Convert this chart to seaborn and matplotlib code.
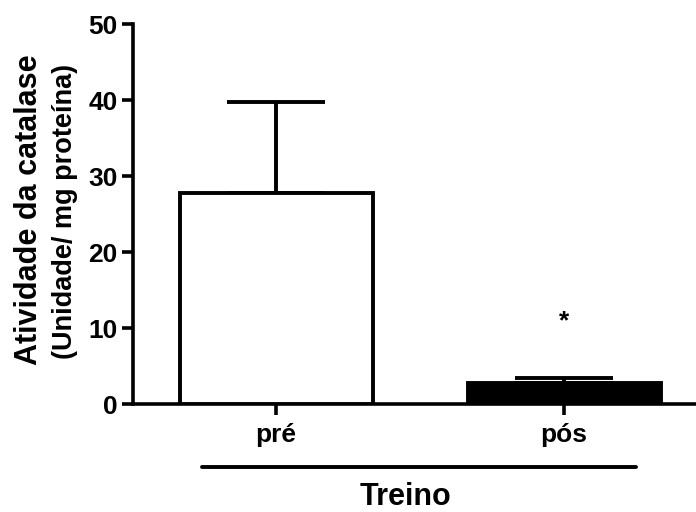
import matplotlib
matplotlib.use("Agg")
import matplotlib.pyplot as plt
import seaborn as sns
import pandas as pd
from matplotlib.lines import Line2D

# data
groups = ["pré", "pós"]
means = [27.8, 2.7]
sds = [11.9, 0.7]
bar_colors = ["white", "black"]
y_ticks = [0, 10, 20, 30, 40, 50]

sns.set_style("ticks", {"axes.edgecolor": "black", "text.color": "black",
                        "xtick.color": "black", "ytick.color": "black"})
plt.rcParams["font.family"] = ["Liberation Sans", "DejaVu Sans"]
plt.rcParams["font.weight"] = "bold"

df = pd.DataFrame({"Treino": groups, "atividade": means})

fig = plt.figure(figsize=(6.96, 5.12), dpi=100)
ax = fig.add_axes([133 / 696, 1 - 404 / 512, (696 - 133) / 696, 380 / 512])

lw = 2.8
sns.barplot(data=df, x="Treino", y="atividade", hue="Treino", palette=bar_colors,
            edgecolor="black", linewidth=lw, width=0.67, legend=False,
            errorbar=None, ax=ax, zorder=3)

# upward-only error bars (Prism style)
ax.errorbar(x=range(len(groups)), y=means, yerr=[[0] * len(sds), sds], fmt="none",
            ecolor="black", elinewidth=lw, capsize=35, capthick=lw, zorder=2)

# significance mark
ax.text(1, 9.9, "*", ha="center", va="baseline", fontsize=19, fontweight="bold",
        color="black")

ax.set_xlim(-0.497, 1.458)
ax.set_ylim(0, 50)
ax.set_yticks(y_ticks)
ax.set_xlabel("")
ax.set_ylabel("")
sns.despine(ax=ax)
for s in ["left", "bottom"]:
    ax.spines[s].set_linewidth(2.6)
    ax.spines[s].set_color("black")
ax.tick_params(axis="both", length=8, width=2.6, labelsize=19, pad=3,
               color="black", labelcolor="black")
ax.tick_params(axis="x", pad=6)
for lab in ax.get_xticklabels() + ax.get_yticklabels():
    lab.set_fontweight("bold")

# axis titles
fig.text(37 / 696, 1 - 210 / 512, "Atividade da catalase", rotation=90,
         rotation_mode="anchor", ha="center", va="baseline", fontsize=22,
         fontweight="bold", color="black")
fig.text(72 / 696, 1 - 211 / 512, "(Unidade/ mg proteína)", rotation=90,
         rotation_mode="anchor", ha="center", va="baseline", fontsize=19.5,
         fontweight="bold", color="black")

# group bar and label below x axis
fig.add_artist(Line2D([202 / 696, 636 / 696], [1 - 467 / 512, 1 - 467 / 512],
                      color="black", linewidth=2.8))
fig.text(405 / 696, 1 - 505 / 512, "Treino", ha="center", va="baseline",
         fontsize=22, fontweight="bold", color="black")

fig.savefig("out.png", dpi=100)
plt.close(fig)
